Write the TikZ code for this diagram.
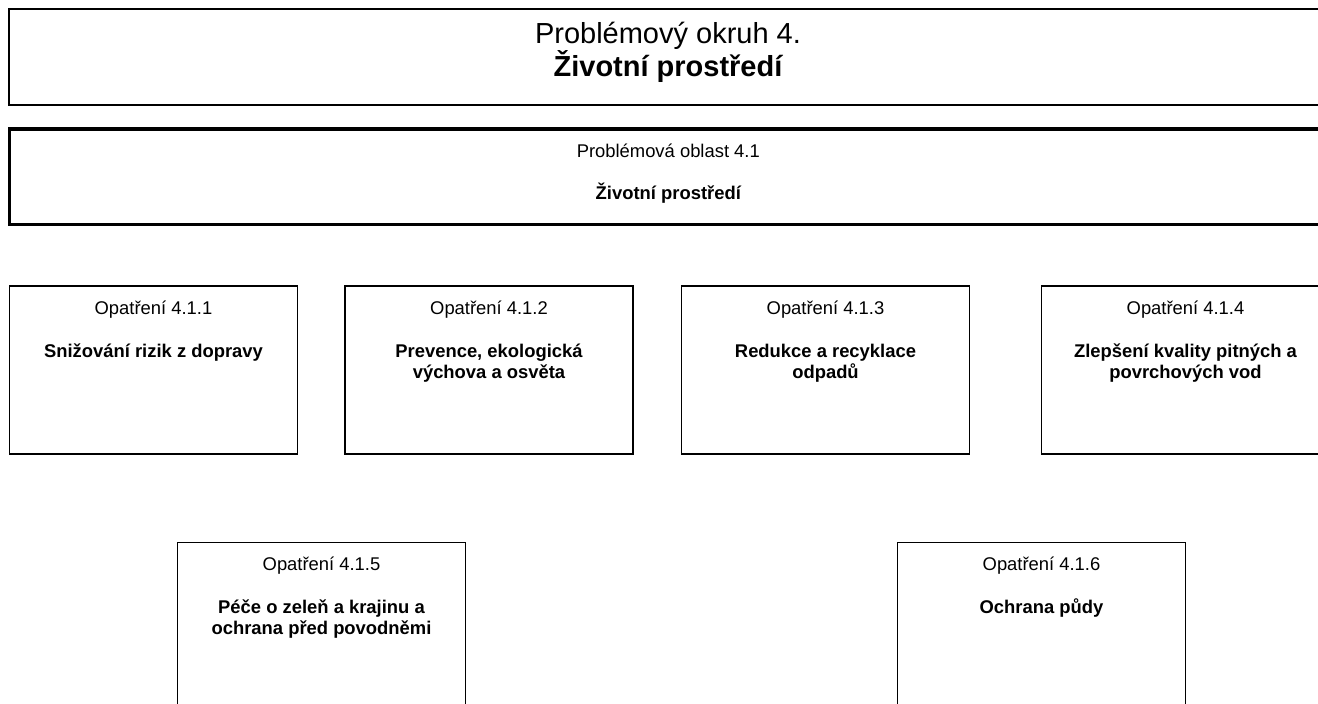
\documentclass[tikz,border=0pt]{standalone}
\usepackage{fontspec}
\setmainfont{Liberation Sans}
\usetikzlibrary{calc}
\tikzset{
  frame/.style={draw=black, line width=1.3pt, fill=none, inner sep=0pt, outer sep=0pt, anchor=north west},
  titlebox/.style={frame, line width=2pt},
  areabox/.style={frame, line width=3.5pt},
  lab/.style={inner sep=0pt, outer sep=0pt, anchor=base, font=\fontsize{18.4}{21.2}\selectfont},
  blab/.style={lab, font=\fontsize{18.4}{21.2}\selectfont\bfseries},
  tlab/.style={lab, font=\fontsize{29}{33.4}\selectfont},
  tblab/.style={lab, font=\fontsize{29}{33.4}\selectfont\bfseries}
}
\begin{document}
\begin{tikzpicture}[x=1pt,y=-1pt]
\useasboundingbox (0,0) rectangle (1318,704);
\fill[white] (0,0) rectangle (1318,704);
\clip (0,0) rectangle (1318,704);
% title box
\node[titlebox, minimum width=1318pt, minimum height=96pt] (top) at (9,9) {};
\node[tlab] (t1) at ($(top.north)+(0,34.3)$) {Problémový okruh 4.};
\node[tblab] (t2) at ($(top.north)+(0,67.7)$) {Životní prostředí};
% area box
\node[areabox, minimum width=1318pt, minimum height=95.7pt] (area) at (9.3,129) {};
\node[lab] (a1) at ($(area.north)+(0,28.7)$) {Problémová oblast 4.1};
\node[blab] (a2) at ($(area.north)+(0,70)$) {Životní prostředí};
% measure boxes row 1
\node[frame, minimum width=288pt, minimum height=168pt] (m1) at (9.5,286) {};
\node[frame, minimum width=288pt, minimum height=168pt] (m2) at (345,286) {};
\node[frame, minimum width=288pt, minimum height=168pt] (m3) at (681.5,286) {};
\node[frame, minimum width=288pt, minimum height=168pt] (m4) at (1041.5,286) {};
% row 2
\node[frame, minimum width=288pt, minimum height=168pt] (m5) at (177.5,542.3) {};
\node[frame, minimum width=288pt, minimum height=168pt] (m6) at (897.5,542.3) {};
% texts
\node[lab] (o1) at ($(m1.north)+(0,28)$) {Opatření 4.1.1};
\node[blab] (n1) at ($(m1.north)+(0,71.5)$) {Snižování rizik z dopravy};
\node[lab] (o2) at ($(m2.north)+(0,28)$) {Opatření 4.1.2};
\node[blab] (n2a) at ($(m2.north)+(0,71.5)$) {Prevence, ekologická};
\node[blab] (n2b) at ($(m2.north)+(0,92.2)$) {výchova a osvěta};
\node[lab] (o3) at ($(m3.north)+(0,28)$) {Opatření 4.1.3};
\node[blab] (n3a) at ($(m3.north)+(0,71.5)$) {Redukce a recyklace};
\node[blab] (n3b) at ($(m3.north)+(0,92.2)$) {odpadů};
\node[lab] (o4) at ($(m4.north)+(0,28)$) {Opatření 4.1.4};
\node[blab] (n4a) at ($(m4.north)+(0,71.5)$) {Zlepšení kvality pitných a};
\node[blab] (n4b) at ($(m4.north)+(0,92.2)$) {povrchových vod};
\node[lab] (o5) at ($(m5.north)+(0,28)$) {Opatření 4.1.5};
\node[blab] (n5a) at ($(m5.north)+(0,71)$) {Péče o zeleň a krajinu a};
\node[blab] (n5b) at ($(m5.north)+(0,91.7)$) {ochrana před povodněmi};
\node[lab] (o6) at ($(m6.north)+(0,28)$) {Opatření 4.1.6};
\node[blab] (n6) at ($(m6.north)+(0,71)$) {Ochrana půdy};
\end{tikzpicture}
\end{document}
